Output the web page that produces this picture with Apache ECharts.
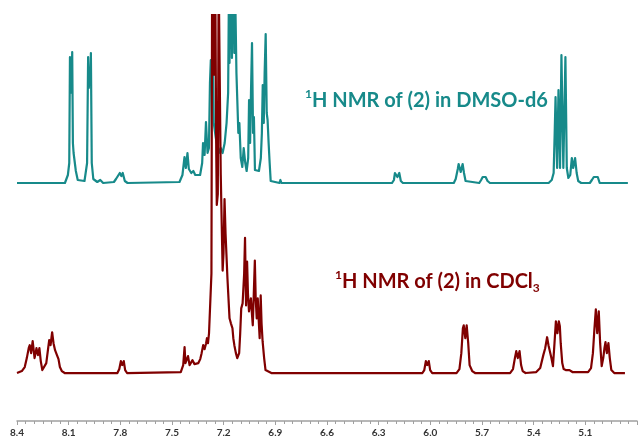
<!DOCTYPE html>
<html>
<head>
<meta charset="utf-8">
<script src="https://cdn.jsdelivr.net/npm/echarts@6/dist/echarts.min.js"></script>
<style>html,body{margin:0;padding:0;background:#fff;}#c{width:640px;height:438px;}</style>
</head>
<body>
<div id="c"></div>
<script>
// Chemical-shift axis (ppm)
var xTicks = [8.4, 8.1, 7.8, 7.5, 7.2, 6.9, 6.6, 6.3, 6.0, 5.7, 5.4, 5.1];

// 1H NMR in DMSO-d6: [ppm, intensity (arbitrary units)]
var dmsoSpectrum = [
[8.40,0],[8.123,0],[8.106,8],[8.098,20],[8.094,126],[8.091,90],[8.088,110],[8.084,100],[8.081,131],[8.077,40],[8.073,30],[8.066,30],[8.060,12],[8.049,3],[8.038,1],[8.010,2],[7.995,20],[7.989,126],[7.985,95],[7.981,110],[7.977,100],[7.973,130],[7.968,20],[7.959,4],[7.936,1],[7.919,3],[7.902,0],[7.840,1],[7.828,4],[7.817,6],[7.806,10],[7.797,7],[7.789,10],[7.777,2],[7.761,0],
[7.461,1],[7.444,8],[7.432,26],[7.424,15],[7.415,30],[7.407,14],[7.393,10],[7.381,12],[7.370,8],[7.359,6],[7.342,8],[7.330,20],[7.325,40],[7.316,28],[7.308,61],[7.299,30],[7.291,35],[7.285,100],[7.280,123],[7.276,100],[7.271,110],[7.268,128],[7.263,60],[7.251,45],[7.234,30],[7.223,35],[7.212,30],[7.200,40],[7.189,60],[7.180,90],[7.175,200],[7.172,120],[7.168,200],[7.165,135],[7.161,200],[7.158,125],[7.154,200],[7.151,140],[7.147,200],[7.144,130],[7.140,200],[7.136,200],[7.132,110],[7.127,83],[7.121,50],[7.115,60],[7.107,25],[7.098,16],[7.090,35],[7.081,20],[7.073,12],[7.064,25],[7.059,83],[7.053,40],[7.048,90],[7.042,140],[7.036,50],[7.031,66],[7.025,13],[7.014,15],[7.002,12],[6.991,25],[6.985,50],[6.980,98],[6.974,60],[6.969,110],[6.963,149],[6.957,70],[6.952,63],[6.946,40],[6.940,20],[6.934,2],[6.923,0],
[6.883,0],[6.878,3],[6.872,0],[6.476,0],[6.465,2],[6.453,0],[6.233,0],[6.222,3],[6.216,10],[6.202,6],[6.191,10],[6.182,2],[6.170,0],
[5.876,0],[5.865,4],[5.853,14],[5.848,19],[5.836,11],[5.825,19],[5.817,10],[5.808,2],[5.797,0],[5.729,0],[5.718,3],[5.709,6],[5.701,4],[5.692,6],[5.681,2],[5.667,0],[5.525,0],[5.514,1],[5.503,0],
[5.328,0],[5.310,3],[5.299,10],[5.293,50],[5.288,86],[5.279,15],[5.271,93],[5.262,15],[5.254,128],[5.243,15],[5.231,126],[5.223,15],[5.214,5],[5.203,8],[5.194,25],[5.186,15],[5.175,25],[5.166,10],[5.157,2],[5.140,0],[5.090,0],[5.078,3],[5.067,6],[5.056,4],[5.044,6],[5.033,0],[4.87,0]
];

// 1H NMR in CDCl3: [ppm, intensity (arbitrary units)]
var cdcl3Spectrum = [
[8.40,0],[8.372,2],[8.355,6],[8.343,15],[8.332,25],[8.326,28],[8.318,20],[8.309,32],[8.298,15],[8.292,20],[8.287,25],[8.278,18],[8.270,25],[8.262,12],[8.253,3],[8.242,3],[8.230,10],[8.219,25],[8.213,33],[8.205,28],[8.196,41],[8.188,30],[8.179,23],[8.168,18],[8.159,14],[8.151,6],[8.140,2],[8.123,0],
[7.817,0],[7.806,4],[7.797,12],[7.789,8],[7.780,12],[7.772,3],[7.761,0],
[7.449,1],[7.435,8],[7.427,26],[7.422,10],[7.412,12],[7.407,17],[7.398,8],[7.390,10],[7.381,13],[7.370,9],[7.359,8],[7.347,10],[7.336,14],[7.328,20],[7.319,28],[7.311,24],[7.302,30],[7.297,35],[7.291,30],[7.285,40],[7.277,40],[7.271,100],[7.267,400],[7.263,300],[7.259,420],[7.254,300],[7.249,400],[7.243,220],[7.240,169],[7.234,180],[7.229,400],[7.223,400],[7.217,200],[7.206,103],[7.201,120],[7.195,175],[7.189,140],[7.183,138],[7.178,95],[7.172,75],[7.166,55],[7.158,50],[7.149,45],[7.144,35],[7.138,28],[7.129,20],[7.121,15],[7.115,13],[7.110,20],[7.104,40],[7.098,65],[7.090,70],[7.081,100],[7.076,136],[7.070,68],[7.064,112],[7.059,80],[7.053,62],[7.048,68],[7.042,75],[7.036,60],[7.031,48],[7.025,80],[7.019,113],[7.014,75],[7.008,55],[7.002,75],[6.997,55],[6.991,35],[6.985,78],[6.980,50],[6.974,32],[6.965,15],[6.957,3],[6.946,1],[6.923,0],
[6.046,0],[6.035,3],[6.026,12],[6.018,8],[6.009,12],[6.001,3],[5.989,0],
[5.848,0],[5.831,4],[5.820,20],[5.811,45],[5.806,48],[5.797,35],[5.789,48],[5.780,30],[5.772,8],[5.757,2],[5.740,0],
[5.537,0],[5.520,4],[5.509,15],[5.501,22],[5.492,15],[5.482,22],[5.473,8],[5.464,2],[5.447,0],
[5.385,1],[5.362,5],[5.344,18],[5.333,25],[5.322,36],[5.314,28],[5.305,28],[5.297,15],[5.288,7],[5.279,30],[5.271,52],[5.262,40],[5.254,52],[5.248,47],[5.243,30],[5.234,10],[5.226,4],[5.214,3],[5.203,4],[5.192,3],[5.175,1],
[5.084,1],[5.067,5],[5.056,20],[5.047,45],[5.039,64],[5.031,40],[5.022,62],[5.014,30],[5.005,7],[4.996,15],[4.989,25],[4.983,31],[4.975,20],[4.966,30],[4.958,15],[4.949,3],[4.932,0],[4.87,0]
];

var TEAL = '#178a8a';
var MAROON = '#800000';

var chart = echarts.init(document.getElementById('c'), null, {renderer: 'canvas'});
var xCommon = {
  type: 'value', inverse: true, min: 4.8, max: 8.4, interval: 0.3
};
chart.setOption({
  animation: false,
  backgroundColor: '#ffffff',
  grid: [
    {left: 17, width: 636, top: 15, height: 173},
    {left: 17, width: 636, top: 15, height: 365}
  ],
  xAxis: [
    Object.assign({}, xCommon, {gridIndex: 0, show: false}),
    Object.assign({}, xCommon, {
      gridIndex: 1, position: 'bottom', offset: 43,
      axisLine: {show: true, onZero: false, lineStyle: {color: '#a0a0a0', width: 1.5}},
      axisTick: {show: true, length: 4, lineStyle: {color: '#a0a0a0', width: 1}},
      minorTick: {show: true, splitNumber: 6, length: 3, lineStyle: {color: '#a0a0a0', width: 1}},
      splitLine: {show: false},
      axisLabel: {
        show: true, margin: 7, color: '#333333', fontSize: 10, fontWeight: 'bold',
        fontFamily: 'Lato, "Open Sans", sans-serif',
        formatter: function (v) {
          for (var i = 0; i < xTicks.length; i++) {
            if (Math.abs(xTicks[i] - v) < 1e-6) return xTicks[i].toFixed(1);
          }
          return '';
        }
      }
    })
  ],
  yAxis: [
    {type: 'value', gridIndex: 0, min: -5, max: 168, show: false},
    {type: 'value', gridIndex: 1, min: -5, max: 360, show: false}
  ],
  series: [
    {
      name: 'DMSO-d6', type: 'line', xAxisIndex: 0, yAxisIndex: 0,
      data: dmsoSpectrum, showSymbol: false, symbol: 'none', clip: true,
      lineStyle: {color: TEAL, width: 2.2, join: 'round'}, z: 2
    },
    {
      name: 'CDCl3', type: 'line', xAxisIndex: 1, yAxisIndex: 1,
      data: cdcl3Spectrum, showSymbol: false, symbol: 'none', clip: true,
      lineStyle: {color: MAROON, width: 2.2, join: 'round'}, z: 3
    }
  ],
  graphic: [
    {
      type: 'text', left: 305, top: 88, z: 10,
      style: {
        text: '{sup|1}{main|H NMR of (2) in DMSO-d6}',
        fill: TEAL,
        rich: {
          sup: {fontSize: 12, fontWeight: 'bold', fontFamily: 'Lato, sans-serif', fill: TEAL, lineHeight: 12, verticalAlign: 'top'},
          main: {fontSize: 20, fontWeight: 'bold', fontFamily: 'Lato, sans-serif', fill: TEAL, lineHeight: 25}
        }
      }
    },
    {
      type: 'text', left: 335, top: 269, z: 10,
      style: {
        text: '{sup|1}{main|H NMR of (2) in CDCl}{sub|3}',
        fill: MAROON,
        rich: {
          sup: {fontSize: 12, fontWeight: 'bold', fontFamily: 'Lato, sans-serif', fill: MAROON, lineHeight: 12, verticalAlign: 'top'},
          main: {fontSize: 20, fontWeight: 'bold', fontFamily: 'Lato, sans-serif', fill: MAROON, lineHeight: 25},
          sub: {fontSize: 12, fontWeight: 'bold', fontFamily: 'Lato, sans-serif', fill: MAROON, lineHeight: 12, verticalAlign: 'bottom'}
        }
      }
    }
  ]
});
</script>
</body>
</html>
